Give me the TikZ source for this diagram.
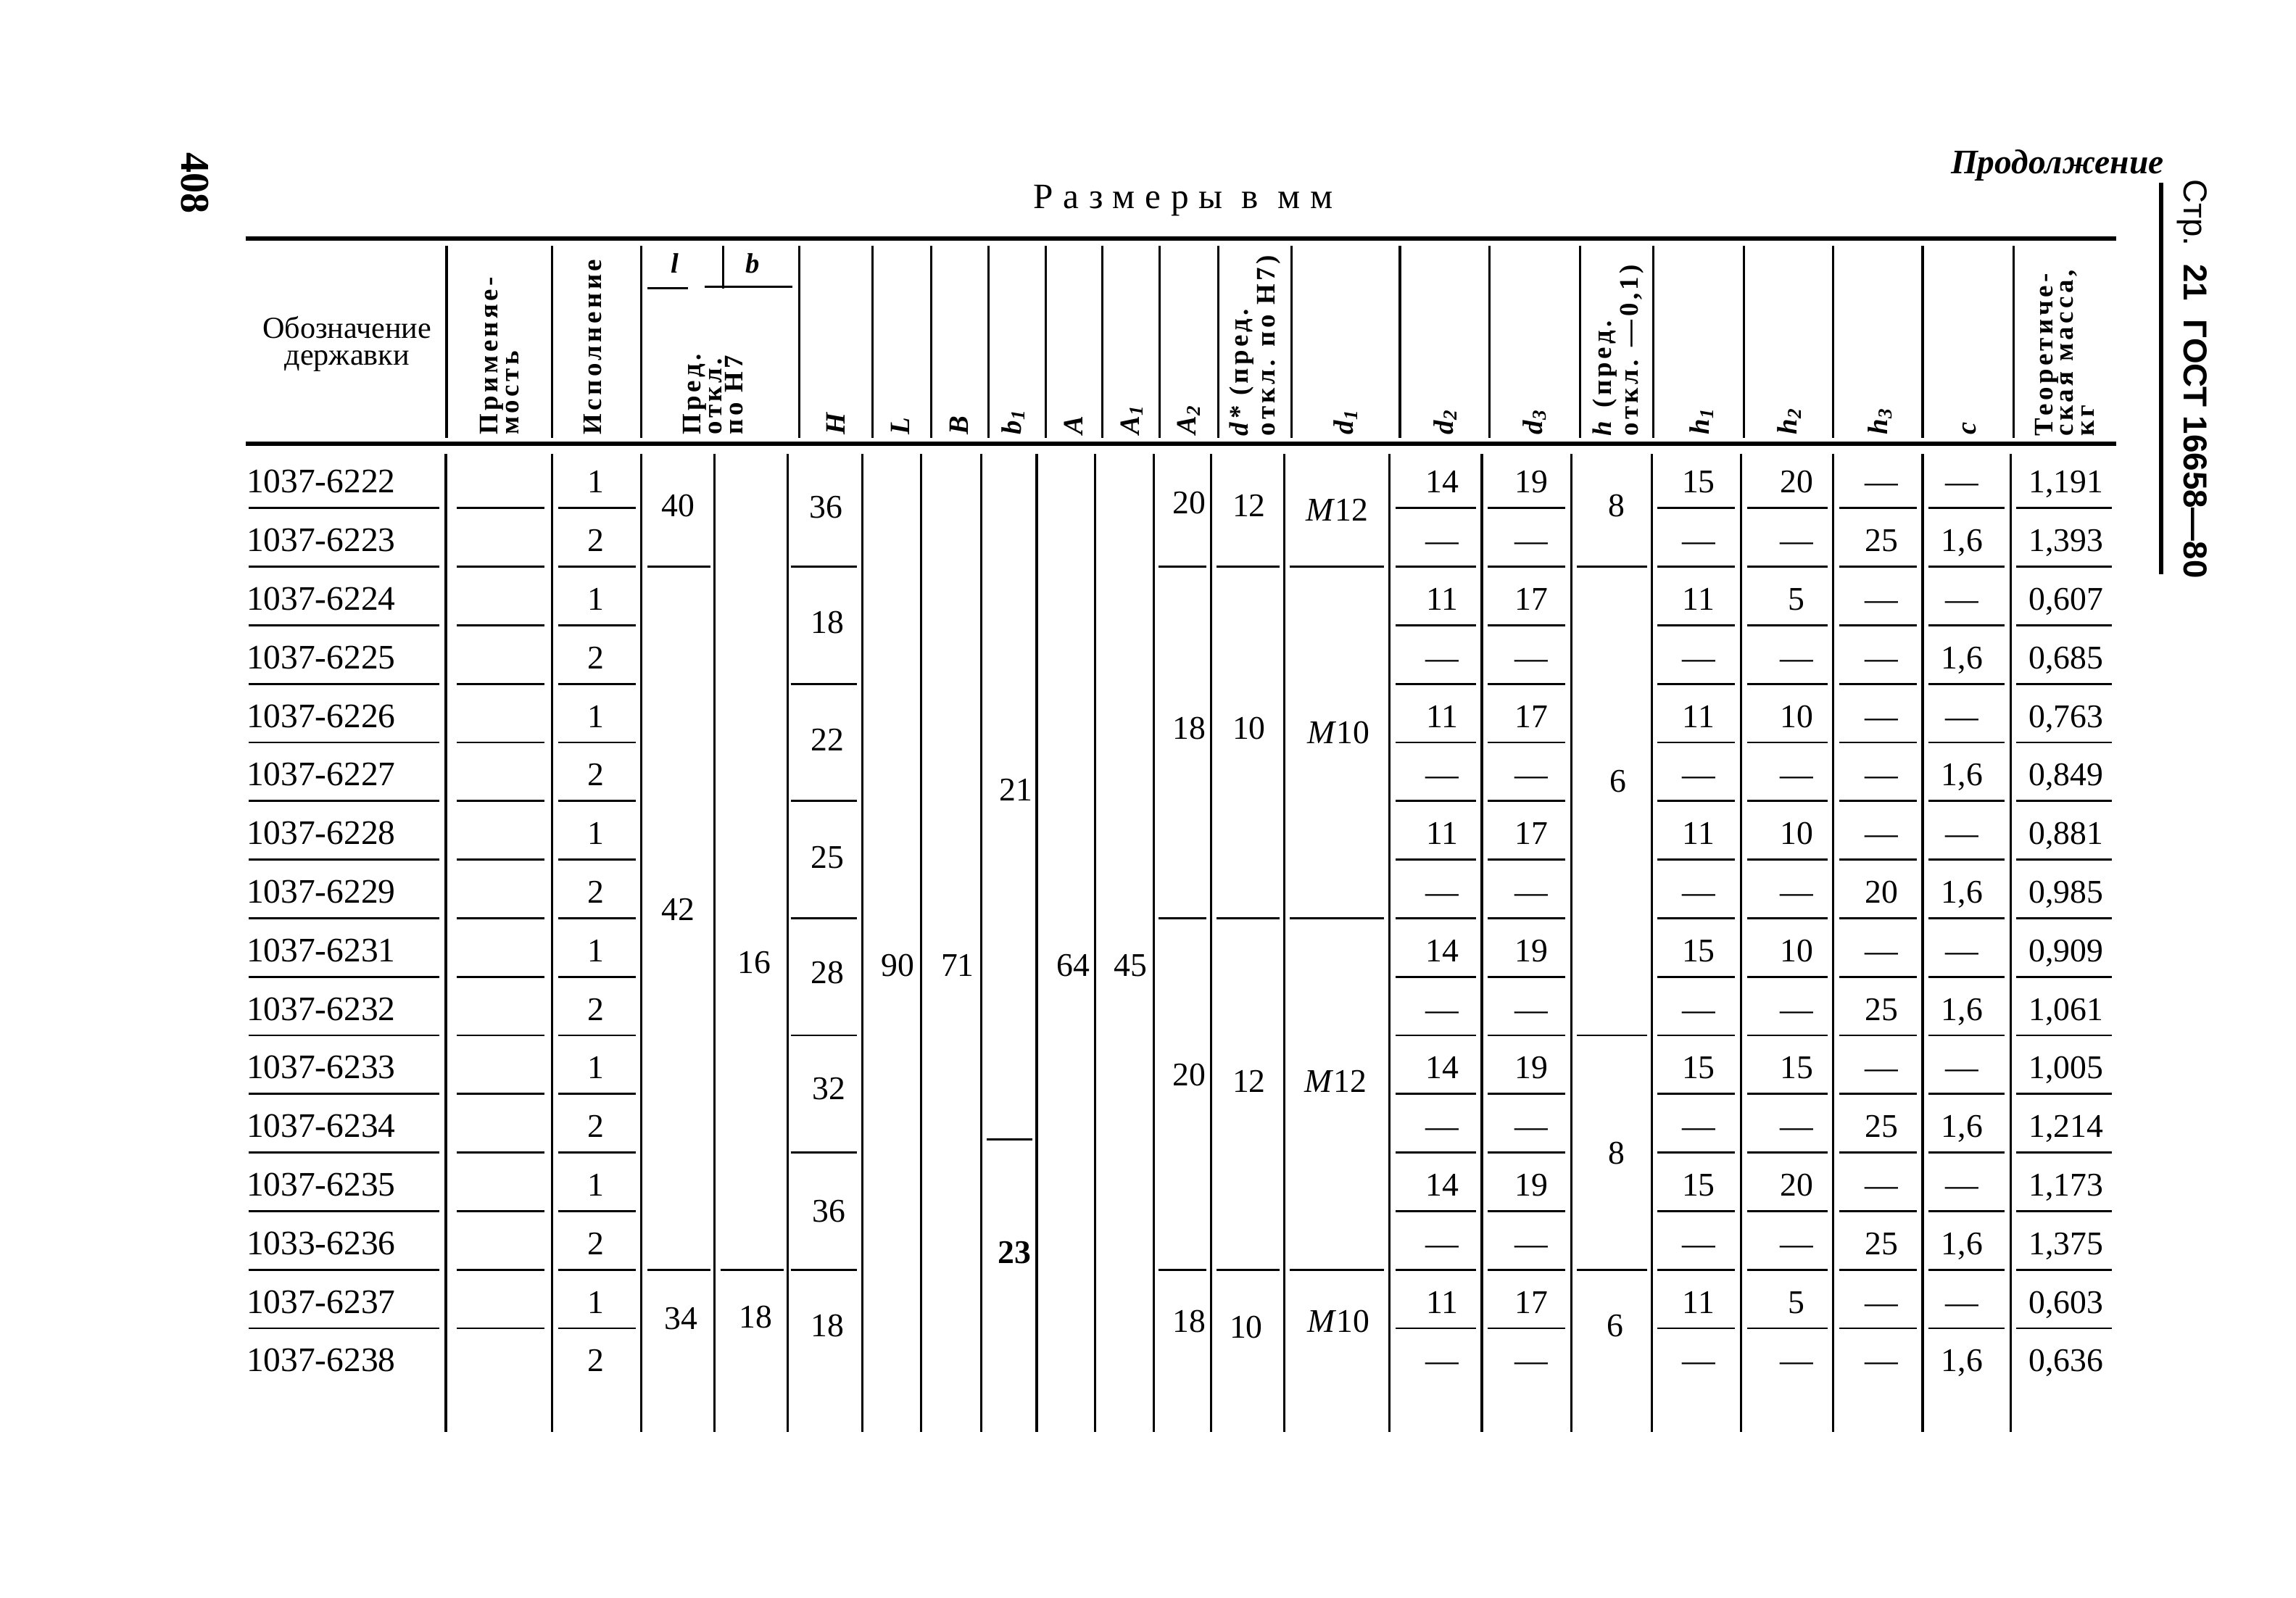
\documentclass[tikz,border=0pt]{standalone}
\usepackage{fontspec}
\setmainfont{Liberation Serif}
\setsansfont{Liberation Sans}
\newfontfamily\spacedfont[LetterSpace=28]{Liberation Serif}
\newfontfamily\headfont[LetterSpace=12]{Liberation Serif}

\begin{document}
\begin{tikzpicture}[x=0.020198cm, y=-0.020198cm]
% Define styles
\tikzstyle{cell} = [inner sep=0pt, text height=8.8pt, text depth=0pt, font=\fontsize{13}{13}\selectfont]
\tikzstyle{vhead} = [rotate=90, anchor=west, inner sep=0pt, align=left, font=\headfont\bfseries\fontsize{10.5}{8.2}\selectfont]
\tikzstyle{sym} = [rotate=90, anchor=west, inner sep=0pt, font=\bfseries\itshape\fontsize{11}{11}\selectfont]
\tikzstyle{rule} = [line width=1.7pt]
\tikzstyle{colline} = [line width=0.9pt]
\tikzstyle{sepline} = [line width=0.8pt]

\useasboundingbox (0,0) rectangle (1568,1091);

% Page head
\node [rotate=-90, font=\bfseries\fontsize{16}{16}\selectfont] (page) at (133,125) {408};
\node [font=\bfseries\itshape\fontsize{13.5}{13.5}\selectfont] (cont) at (1405,113) {Продолжение};
\node [font=\spacedfont\fontsize{14}{14}\selectfont] (units) at (808,137) {Размеры в мм};
\node [rotate=-90, anchor=west, inner sep=0pt, font=\sffamily\fontsize{13}{13}\selectfont] (gost) at (1497,122) {Стр.\ \ \textbf{21\ \ ГОСТ 16658—80}};
\draw [rule] (1476,125) -- (1476,392);

% Rules
\draw [rule] (168,163) -- (1445,163);
\draw [rule] (168,303) -- (1445,303);

% Header
\foreach \x in {305,377,438,546,596,636,675,714,753,792,832,882,956,1017,1079,1129,1191,1252,1313,1375}
  \draw [colline] (\x,168) -- (\x,299);
\draw [colline] (494,168) -- (494,197);
\draw [sepline] (442,197) -- (470,197);
\draw [sepline] (481,196) -- (541,196);
\node [font=\bfseries\itshape\fontsize{11}{11}\selectfont] (hl) at (461,180) {l};
\node [font=\bfseries\itshape\fontsize{11}{11}\selectfont] (hb) at (514,180) {b};

\node [align=center, font=\fontsize{12}{10.5}\selectfont] (hdes) at (237,235) {Обозначение\\державки};
\node [vhead] (happ) at (341,297) {Применяе-\\мость};
\node [vhead] (hisp) at (405,297) {Исполнение};
\node [vhead] (hlb) at (487,297) {Пред.\\откл.\\по H7};
\foreach \x/\t [count=\k] in {571/H, 615/L, 655/B, 692/b\textsubscript{1}, 733/A, 773/A\textsubscript{1}, 812/A\textsubscript{2},
    919/d\textsubscript{1}, 987/d\textsubscript{2}, 1048/d\textsubscript{3}, 1162/h\textsubscript{1}, 1222/h\textsubscript{2},
    1284/h\textsubscript{3}, 1345/c}
  \node [sym] (hsym\k) at (\x,297) {\t};
\node [vhead] (hd) at (857,298) {\textit{d}* (пред.\\откл. по H7)};
\node [vhead] (hh) at (1105,298) {\textit{h} (пред.\\откл. —0,1)};
\node [vhead] (hmass) at (1410,298) {Теоретиче-\\ская масса,\\кг};

% Data columns
\foreach \x in {304.5,377,438,488,538,589,629,670,708,748,788,827,877,949,1012,1073,1128,1189,1252,1313,1373}
  \draw [colline] (\x,310) -- (\x,978);

% Rows
\foreach \id [count=\i from 0] in {1037-6222,1037-6223,1037-6224,1037-6225,1037-6226,1037-6227,1037-6228,1037-6229,
    1037-6231,1037-6232,1037-6233,1037-6234,1037-6235,1033-6236,1037-6237,1037-6238} {
  \pgfmathtruncatemacro\v{mod(\i,2)+1}
  \node [cell, anchor=west, font=\fontsize{13.5}{13.5}\selectfont] (id\i) at (168,329+40*\i) {\id};
  \node [cell] (isp\i) at (407,329+40*\i) {\v};
}
\foreach \da/\db/\ha/\hb/\hc/\cc/\m [count=\i from 0] in {
    14/19/15/20/—/—/1{,}191, —/—/—/—/25/1{,}6/1{,}393,
    11/17/11/5/—/—/0{,}607, —/—/—/—/—/1{,}6/0{,}685,
    11/17/11/10/—/—/0{,}763, —/—/—/—/—/1{,}6/0{,}849,
    11/17/11/10/—/—/0{,}881, —/—/—/—/20/1{,}6/0{,}985,
    14/19/15/10/—/—/0{,}909, —/—/—/—/25/1{,}6/1{,}061,
    14/19/15/15/—/—/1{,}005, —/—/—/—/25/1{,}6/1{,}214,
    14/19/15/20/—/—/1{,}173, —/—/—/—/25/1{,}6/1{,}375,
    11/17/11/5/—/—/0{,}603, —/—/—/—/—/1{,}6/0{,}636} {
  \node [cell] (dtwo\i) at (985,329+40*\i) {\da};
  \node [cell] (dthree\i) at (1046,329+40*\i) {\db};
  \node [cell] (hone\i) at (1160,329+40*\i) {\ha};
  \node [cell] (htwo\i) at (1227,329+40*\i) {\hb};
  \node [cell] (hthree\i) at (1285,329+40*\i) {\hc};
  \node [cell] (c\i) at (1340,329+40*\i) {\cc};
  \node [cell] (mass\i) at (1411,329+40*\i) {\m};
}

% Row separators
\foreach \i in {0,...,14} {
  \foreach \xa/\xb in {170/300, 312/372, 381/434, 953/1008, 1016/1069, 1132/1185, 1193/1248, 1256/1309, 1317/1369, 1377/1442}
    \draw [sepline] (\xa,347+40*\i) -- (\xb,347+40*\i);
}

% Merged cells
\foreach \x/\y/\t [count=\k] in {463/345/40, 463/621/42, 465/900/34, 515/657/16, 516/899/18,
    564/346/36, 565/425/18, 565/505/22, 565/585/25, 565/664/28, 566/743/32, 566/827/36, 565/905/18,
    613/659/90, 654/659/71, 694/539/21, 693/855/\textbf{23}, 733/659/64, 772/659/45,
    812/343/20, 812/497/18, 812/734/20, 812/902/18, 853/345/12, 853/497/10, 853/738/12, 851/906/10,
    913/348/\textit{M}12, 914/500/\textit{M}10, 912/738/\textit{M}12, 914/902/\textit{M}10,
    1104/345/8, 1105/533/6, 1104/787/8, 1103/905/6}
  \node [cell] (span\k) at (\x,\y) {\t};
\foreach \xa/\xb/\y in {442/485/387, 442/485/867, 492/535/867,
    540/585/387, 540/585/467, 540/585/547, 540/585/627, 540/585/707, 540/585/787, 540/585/867,
    674/705/778, 791/824/387, 791/824/627, 791/824/867, 831/874/387, 831/874/627, 831/874/867,
    881/945/387, 881/945/627, 881/945/867, 1077/1125/387, 1077/1125/707, 1077/1125/867}
  \draw [sepline] (\xa,\y) -- (\xb,\y);

\end{tikzpicture}
\end{document}
